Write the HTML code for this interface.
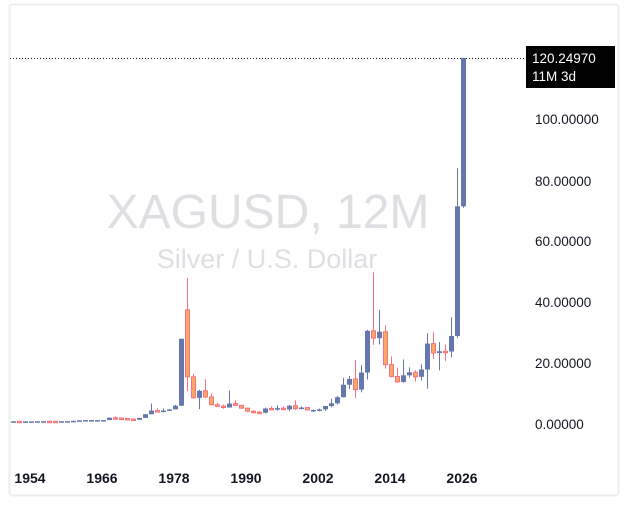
<!DOCTYPE html>
<html><head><meta charset="utf-8"><style>
html,body{margin:0;padding:0;background:#fff;width:629px;height:514px;overflow:hidden}
svg{position:absolute;left:0;top:0}
text{font-family:"Liberation Sans",sans-serif}
</style></head><body>
<svg id="s" width="629" height="514" xmlns="http://www.w3.org/2000/svg">
<rect x="9.5" y="4.5" width="609" height="491" fill="none" stroke="#eeeeee" stroke-width="2" rx="3"/>
<text x="268" y="228" font-size="48" fill="#dedfe3" text-anchor="middle">XAGUSD, 12M</text>
<text x="267" y="268" font-size="27" fill="#dedfe3" text-anchor="middle">Silver / U.S. Dollar</text>
<line x1="10" y1="58.5" x2="526" y2="58.5" stroke="#131722" stroke-width="1" stroke-dasharray="1,2"/>
<g font-size="13.5" fill="#131722" text-anchor="start">
<text x="535" y="124">100.00000</text>
<text x="535" y="186">80.00000</text>
<text x="535" y="246">60.00000</text>
<text x="535" y="307">40.00000</text>
<text x="535" y="368">20.00000</text>
<text x="535" y="429">0.00000</text>
</g>
<rect x="526" y="46" width="89" height="42" fill="#000"/>
<text x="532" y="63" font-size="13.5" fill="#fff">120.24970</text>
<text x="532" y="81" font-size="13.5" fill="#fff">11M 3d</text>
<g font-size="14" font-weight="bold" fill="#131722" text-anchor="middle">
<text x="30" y="483">1954</text>
<text x="102" y="483">1966</text>
<text x="174" y="483">1978</text>
<text x="246" y="483">1990</text>
<text x="318" y="483">2002</text>
<text x="390" y="483">2014</text>
<text x="462" y="483">2026</text>
</g>
<g id="c"></g>
</svg>
<script>
var d=[
[1951,.8,.9,.8,.88],[1952,.88,.9,.84,.85],[1953,.85,.86,.83,.85],[1954,.85,.86,.85,.86],[1955,.86,.92,.86,.9],[1956,.9,.92,.9,.91],[1957,.91,.92,.89,.9],[1958,.9,.92,.88,.89],[1959,.89,.92,.89,.91],[1960,.91,.92,.91,.92],[1961,.92,1.05,.91,1.04],[1962,1.04,1.22,1.0,1.2],[1963,1.2,1.29,1.2,1.29],[1964,1.29,1.29,1.29,1.29],[1965,1.29,1.29,1.29,1.29],[1966,1.29,1.29,1.29,1.29],
[1967,1.29,2.17,1.29,2.05],[1968,2.05,2.56,1.9,1.97],[1969,1.97,2.0,1.6,1.8],[1970,1.8,1.9,1.57,1.64],[1971,1.64,1.7,1.3,1.39],[1972,1.39,2.0,1.39,2.0],[1973,2.0,3.3,1.95,3.2],[1974,3.2,6.7,3.2,4.4],[1975,4.4,5.2,3.9,4.2],[1976,4.2,5.1,3.8,4.4],[1977,4.4,4.9,4.3,4.8],[1978,4.8,6.3,4.8,6.0],[1979,6.0,28,5.9,28],[1980,37.5,48,10.8,15.5],[1981,15.5,16.5,8.3,8.6],[1982,8.6,11.2,4.9,10.9],[1983,10.9,14.7,8.4,8.9],[1984,8.9,10,6.3,6.3],[1985,6.3,6.9,5.9,5.9],[1986,5.9,6.4,5.0,5.4],[1987,5.4,11,5.4,6.7],[1988,6.7,7.8,6.0,6.1],[1989,6.1,6.3,5.0,5.2],[1990,5.2,5.4,3.9,4.2],[1991,4.2,4.5,3.5,3.9],[1992,3.9,4.3,3.6,3.7],[1993,3.7,5.4,3.5,5.1],[1994,5.1,5.8,4.6,4.9],[1995,4.9,6.1,4.4,5.2],[1996,5.2,5.8,4.7,4.8],[1997,4.8,6.3,4.2,6.0],[1998,6.0,7.8,4.6,5.0],[1999,5.0,5.8,4.8,5.4],[2000,5.4,5.6,4.6,4.6],[2001,4.6,4.8,4.0,4.6],[2002,4.6,5.1,4.2,4.8],[2003,4.8,5.9,4.3,5.9],[2004,5.9,8.3,5.5,6.8],[2005,6.8,9.2,6.4,8.8],[2006,8.8,15.2,8.8,12.9],[2007,12.9,15.8,11.5,14.8],[2008,14.8,21,8.5,11.3],[2009,11.3,19.4,10.4,16.9],[2010,16.9,30.9,14.6,30.6],[2011,30.6,49.8,26,28.2],[2012,28.2,37.5,26.1,30.3],[2013,30.3,32.4,18.2,19.5],[2014,19.5,22.2,15.3,15.6],[2015,15.6,18.5,13.6,13.8],[2016,13.8,21.2,13.6,16],[2017,16,18.6,15.2,17],[2018,17,17.7,13.9,15.5],[2019,15.5,19.6,14.3,17.9],[2020,17.9,29.8,11.6,26.4],[2021,26.4,30.1,21.4,23.3],[2022,23.3,26.9,17.6,23.9],[2023,23.9,26.1,20.7,23.8],[2024,23.8,35,21.9,28.9],[2025,28.9,84,28.3,71.5],[2026,71.5,120.25,71,120.25]];
var g=document.getElementById('c'),h='';
function y(v){return 424-v*3.045}
d.forEach(function(r){
 var x=175+(r[0]-1978)*6,o=r[1],hi=r[2],lo=r[3],c=r[4],up=c>=o;
 var col=up?'#6577ac':'#f7727f';
 h+='<line x1="'+(x+.5)+'" y1="'+y(hi)+'" x2="'+(x+.5)+'" y2="'+y(lo)+'" stroke="'+col+'" stroke-width="1"/>';
 var t=y(Math.max(o,c)),b=y(Math.min(o,c));if(b-t<1.5){b=t+1.5}
 if(up)h+='<rect x="'+(x-2)+'" y="'+t+'" width="5" height="'+(b-t)+'" fill="#6577ac"/>';
 else h+='<rect x="'+(x-1.5)+'" y="'+t+'" width="4" height="'+(b-t)+'" fill="#fca865" stroke="#f7727f" stroke-width="1"/>';
});
g.innerHTML=h;
</script>
</body></html>
